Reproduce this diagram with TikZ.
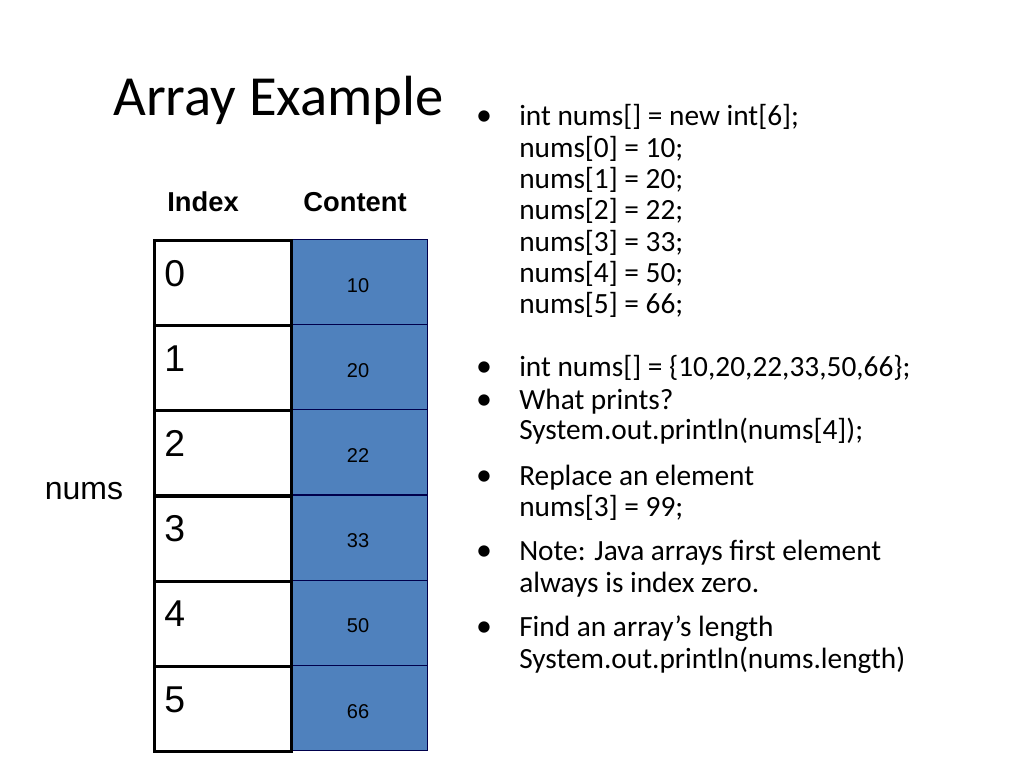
\documentclass[tikz,border=0pt]{standalone}
\usepackage{fontspec}
\setmainfont{Carlito}
\newfontfamily\arial{Liberation Sans}
\begin{document}
\begin{tikzpicture}[x=0.75pt,y=-0.75pt,
  idx/.style={draw=black,line width=2.2pt,minimum width=102.75pt,minimum height=63.75pt,anchor=north west,inner sep=0},
  cnt/.style={draw=black!70!blue,fill={rgb,255:red,79;green,129;blue,189},line width=0.8pt,minimum width=102.75pt,minimum height=63.75pt,anchor=north west,inner sep=0},
  ln/.style={anchor=base west,inner sep=0,font=\fontsize{22}{26}\selectfont},
  bul/.style={anchor=base,inner sep=0,font=\fontsize{24}{26}\selectfont}]
\useasboundingbox (0,0) rectangle (1024,768);
\node[anchor=base west,inner sep=0,font=\fontsize{42.5}{50}\selectfont] (title) at (113,115) {Array Example};
\node[anchor=base,inner sep=0,font=\arial\bfseries\fontsize{20.5}{22}\selectfont] (lidx) at (203,211) {Index};
\node[anchor=base,inner sep=0,font=\arial\bfseries\fontsize{20.5}{22}\selectfont] (lcnt) at (355,211) {Content};
\node[anchor=base,inner sep=0,font=\arial\fontsize{24}{26}\selectfont] (nums) at (84,499) {nums};
\foreach \i/\v in {0/10,1/20,2/22,3/33,4/50,5/66}{
  \node[cnt] (c\i) at (290,239+85.2*\i) {};
  \node[idx] (i\i) at (153,239+85.2*\i) {};
  \node[anchor=base west,inner sep=0,font=\arial\fontsize{28}{30}\selectfont] (d\i) at (164,286+85.2*\i) {\i};
  \node[anchor=base,inner sep=0,font=\arial\fontsize{15}{18}\selectfont] (v\i) at (358,292+85.2*\i) {\v};
}
\foreach \y/\t [count=\k] in {125/{int nums[] = new int[6];},157/{nums[0] = 10;},188/{nums[1] = 20;},219/{nums[2] = 22;},251/{nums[3] = 33;},282/{nums[4] = 50;},313/{nums[5] = 66;},376/{int nums[] = \{10,20,22,33,50,66\};},409/{What prints?},439/{System.out.println(nums[4]);},485/{Replace an element},516/{nums[3] = 99;},560/{Note: Java arrays first element},592/{always is index zero.},636/{Find an array’s length},668/{System.out.println(nums.length)}}
  \node[ln] (t\k) at (519,\y) {\t};
\foreach \y [count=\k] in {125,376,409,485,560,636}
  \node[bul] (b\k) at (484,\y) {•};
\end{tikzpicture}
\end{document}
